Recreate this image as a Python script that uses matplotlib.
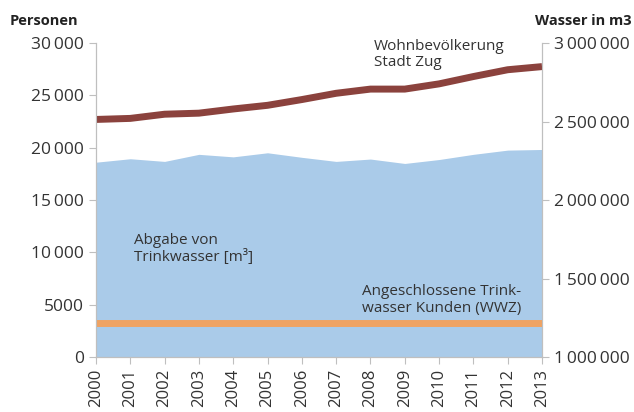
import matplotlib
matplotlib.use("Agg")
import matplotlib.pyplot as plt
from matplotlib.ticker import FuncFormatter

plt.rcParams['font.family'] = ['Open Sans', 'DejaVu Sans']

years = [2000, 2001, 2002, 2003, 2004, 2005, 2006, 2007, 2008, 2009, 2010, 2011, 2012, 2013]
# Wohnbevölkerung Stadt Zug (Personen, linke Achse)
einwohner = [22700, 22800, 23200, 23300, 23700, 24050, 24600, 25200, 25600, 25600, 26100, 26800, 27450, 27750]
# Angeschlossene Trinkwasser Kunden (WWZ) (Personen, linke Achse)
kunden = [3250] * 14
# Abgabe von Trinkwasser in m3 (rechte Achse)
wasser = [2241000, 2263000, 2246000, 2291000, 2275000, 2301000, 2272000, 2246000,
          2261000, 2233000, 2258000, 2291000, 2318000, 2322000]

grey = "#BFBFBF"
txt = "#333333"


def fmt_num(v, pos=None):
    v = int(round(v))
    if v < 10000:
        return str(v)
    s = f"{v:,}"
    return s.replace(",", "\u2009")


fig = plt.figure(figsize=(6.34, 4.12), dpi=100)
ax1 = fig.add_axes([0.1514, 0.1335, 0.7035, 0.762])
ax2 = ax1.twinx()

ax2.fill_between(years, 1000000, wasser, color="#AACBE9", lw=0)
ax2.set_ylim(1000000, 3000000)
ax2.set_yticks([1000000, 1500000, 2000000, 2500000, 3000000])

ax1.set_zorder(ax2.get_zorder() + 1)
ax1.patch.set_visible(False)

ax1.plot(years, einwohner, color="#8B423D", lw=5, solid_capstyle="butt", solid_joinstyle="round")
ax1.plot(years, kunden, color="#EFA363", lw=5, solid_capstyle="butt")

ax1.set_xlim(2000, 2013)
ax1.set_ylim(0, 30000)
ax1.set_yticks(range(0, 30001, 5000))
ax1.set_xticks(years)
ax1.set_xticklabels([str(y) for y in years], rotation=90, fontsize=12, color=txt)

for ax in (ax1, ax2):
    for s in ax.spines.values():
        s.set_color(grey)
    ax.spines['top'].set_visible(False)
    ax.yaxis.set_major_formatter(FuncFormatter(fmt_num))
    ax.tick_params(axis='y', colors=grey, labelcolor=txt, labelsize=12.5, length=5)
    ax.tick_params(axis='x', colors=grey, labelcolor=txt, length=5)

fig.text(10 / 634, 1 - 21 / 412, "Personen", fontsize=10.5,
         fontweight="bold", color="#222222", ha="left", va="center")
fig.text(632 / 634, 1 - 21 / 412, "Wasser in m3", fontsize=10.5,
         fontweight="bold", color="#222222", ha="right", va="center")

ax1.text(2008.1, 28900, "Wohnbevölkerung\nStadt Zug", fontsize=11, color=txt,
         ha="left", va="center", linespacing=1.1)
ax1.text(2001.1, 10300, "Abgabe von\nTrinkwasser [m³]", fontsize=11, color=txt,
         ha="left", va="center", linespacing=1.1)
ax1.text(2007.75, 5450, "Angeschlossene Trink-\nwasser Kunden (WWZ)", fontsize=11, color=txt,
         ha="left", va="center", linespacing=1.1)

fig.savefig("out.png", dpi=100)
